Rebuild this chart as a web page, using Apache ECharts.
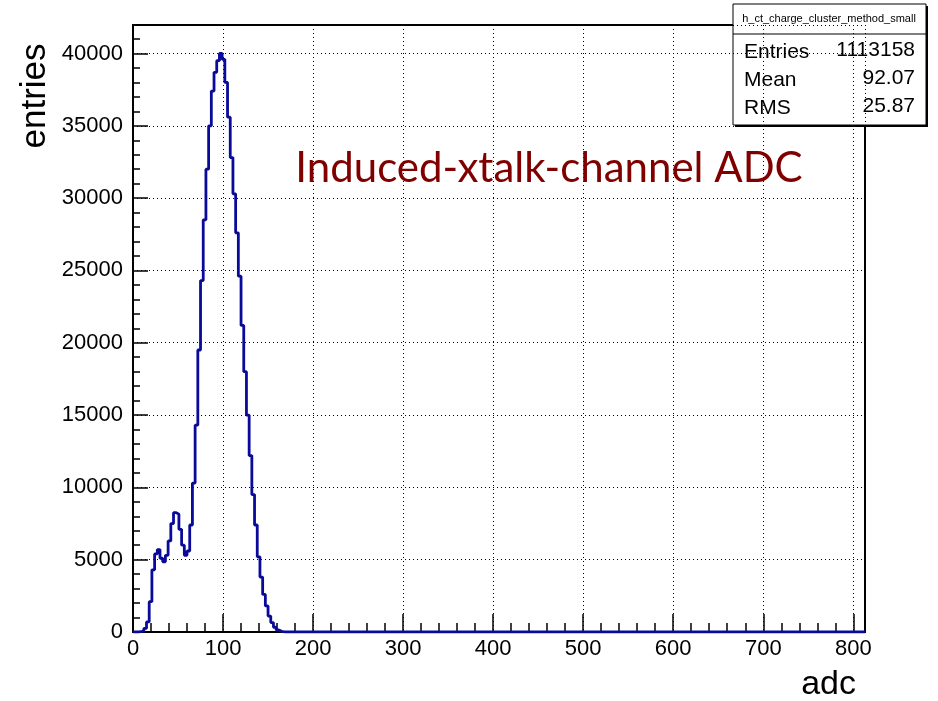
<!DOCTYPE html>
<html>
<head>
<meta charset="utf-8">
<script src="https://cdn.jsdelivr.net/npm/echarts@6/dist/echarts.min.js"></script>
<style>
  html, body { margin: 0; padding: 0; background: #fff; }
  #chart { width: 938px; height: 701px; }
</style>
</head>
<body>
<div id="chart"></div>
<script>
// histogram h_ct_charge_cluster_method_small, 271 bins of width 3 over [0, 813]
const binWidth = 3;
const nBins = 271;
const xMin = 0;
const xMax = 813;
const yMax = 41970;

// counts, bins 0..55; all later bins are empty
const counts = [
  0, 0, 20, 80, 250, 700, 2100, 4300, 5400, 5700,
  5100, 4850, 5300, 6300, 7500, 8250, 8150, 7100, 6000, 5300,
  5600, 7400, 10300, 14300, 19500, 24300, 28500, 32000, 35000, 37400,
  38700, 39500, 40000, 39600, 38000, 35600, 32800, 30300, 27600, 24600,
  21200, 18000, 15000, 12200, 9500, 7400, 5200, 3800, 2600, 1800,
  1100, 650, 330, 140, 50, 15
];

const statsTitle = 'h_ct_charge_cluster_method_small';
const statsLabels = ['Entries', 'Mean', 'RMS'];
const statsValues = ['1113158', '92.07', '25.87'];

const xAxisName = 'adc';
const yAxisName = 'entries';
const plotLabel = 'Induced-xtalk-channel ADC';

// step points at the low edge of every bin, plus the closing upper edge
const stepData = [];
for (let i = 0; i < nBins; i++) {
  stepData.push([xMin + i * binWidth, counts[i] ?? 0]);
}
stepData.push([xMax, counts[nBins - 1] ?? 0]);

const labelFont = 'Liberation Sans';
const chart = echarts.init(document.getElementById('chart'), null, { renderer: 'canvas' });

const dotted = { color: '#000', width: 1, type: [1, 3] };

chart.setOption({
  animation: false,
  backgroundColor: '#fff',
  grid: {
    left: 133,
    top: 25,
    width: 732,
    height: 607,
    show: true,
    borderColor: '#000',
    borderWidth: 2,
    backgroundColor: 'transparent',
  },
  xAxis: [
    {
      // minor ticks every 20, labels on the hundreds
      type: 'value',
      min: xMin,
      max: xMax,
      interval: 20,
      position: 'bottom',
      axisLine: { show: false, onZero: false },
      axisTick: { show: true, inside: true, length: 9, lineStyle: { color: '#000', width: 1.5 } },
      axisLabel: {
        margin: 6,
        fontFamily: labelFont,
        fontSize: 22,
        color: '#000',
        showMaxLabel: false,
        formatter: (v) => (v % 100 === 0 ? String(v) : ''),
      },
      splitLine: { show: false },
    },
    {
      // major ticks + dotted grid
      type: 'value',
      min: xMin,
      max: xMax,
      interval: 100,
      position: 'bottom',
      axisLine: { show: false, onZero: false },
      axisTick: { show: true, inside: true, length: 18, lineStyle: { color: '#000', width: 1.5 } },
      axisLabel: { show: false },
      splitLine: { show: true, lineStyle: dotted },
    },
  ],
  yAxis: [
    {
      type: 'value',
      min: 0,
      max: yMax,
      interval: 1000,
      position: 'left',
      axisLine: { show: false, onZero: false },
      axisTick: { show: true, inside: true, length: 7, lineStyle: { color: '#000', width: 1.5 } },
      axisLabel: {
        margin: 10,
        fontFamily: labelFont,
        fontSize: 22,
        color: '#000',
        showMaxLabel: false,
        formatter: (v) => (v % 5000 === 0 ? String(v) : ''),
      },
      splitLine: { show: false },
    },
    {
      type: 'value',
      min: 0,
      max: yMax,
      interval: 5000,
      position: 'left',
      axisLine: { show: false, onZero: false },
      axisTick: { show: true, inside: true, length: 15, lineStyle: { color: '#000', width: 1.5 } },
      axisLabel: { show: false },
      splitLine: { show: true, lineStyle: dotted },
    },
  ],
  series: [
    {
      type: 'line',
      name: 'h_ct',
      xAxisIndex: 0,
      yAxisIndex: 0,
      step: 'end',
      showSymbol: false,
      symbol: 'none',
      silent: true,
      lineStyle: { color: '#0a0a9a', width: 2.8 },
      data: stepData,
      z: 3,
    },
  ],
  graphic: [
    {
      type: 'text',
      x: 549,
      y: 168,
      style: {
        text: plotLabel,
        font: '42px Lato',
        fill: '#800000',
        textAlign: 'center',
        textVerticalAlign: 'middle',
      },
      z: 10,
    },
    {
      type: 'text',
      x: 35,
      y: 96,
      rotation: Math.PI / 2,
      style: {
        text: yAxisName,
        font: '35px "Liberation Sans"',
        fill: '#000',
        textAlign: 'center',
        textVerticalAlign: 'middle',
      },
    },
    {
      type: 'text',
      x: 856,
      y: 685,
      style: {
        text: xAxisName,
        font: '34px "Liberation Sans"',
        fill: '#000',
        textAlign: 'right',
        textVerticalAlign: 'middle',
      },
    },
    // stats box
    {
      type: 'group',
      z: 20,
      children: [
        { type: 'rect', shape: { x: 735, y: 6, width: 193, height: 121 }, style: { fill: '#000' } },
        { type: 'rect', shape: { x: 733, y: 4, width: 193, height: 121 }, style: { fill: '#fff', stroke: '#000', lineWidth: 1 } },
        { type: 'line', shape: { x1: 733, y1: 34, x2: 926, y2: 34 }, style: { stroke: '#000', lineWidth: 1 } },
        {
          type: 'text', x: 829, y: 19,
          style: { text: statsTitle, font: '11px "Liberation Sans"', fill: '#000', textAlign: 'center', textVerticalAlign: 'middle' },
        },
        ...statsLabels.map((lab, i) => ({
          type: 'text', x: 744, y: 52 + i * 28,
          style: { text: lab, font: '21px "Liberation Sans"', fill: '#000', textAlign: 'left', textVerticalAlign: 'middle' },
        })),
        ...statsValues.map((val, i) => ({
          type: 'text', x: 915, y: 50 + i * 28,
          style: { text: val, font: '21px "Liberation Sans"', fill: '#000', textAlign: 'right', textVerticalAlign: 'middle' },
        })),
      ],
    },
  ],
});
</script>
</body>
</html>
